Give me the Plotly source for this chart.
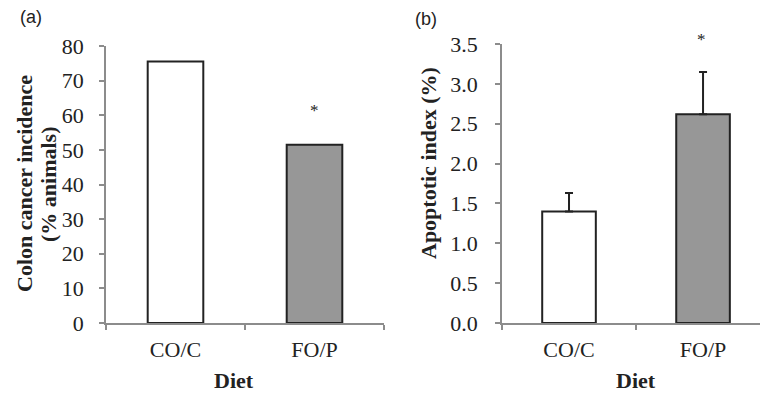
import plotly.graph_objects as go

categories = ["CO/C", "FO/P"]
incidence = [75.5, 51.5]
apoptotic = [1.40, 2.62]
apoptotic_err = [0.23, 0.53]
bar_colors = ["#ffffff", "#979797"]

SERIF = "Liberation Serif, Times New Roman, serif"
SANS = "Liberation Sans, Arial, sans-serif"
W, H = 760, 395
TXT = "#222222"
EDGE = "#222222"

fig = go.Figure()
fig.add_trace(go.Bar(x=categories, y=incidence, marker=dict(color=bar_colors, line=dict(color=EDGE, width=2)),
                     width=0.4, xaxis="x", yaxis="y", showlegend=False))
fig.add_trace(go.Bar(x=categories, y=apoptotic, marker=dict(color=bar_colors, line=dict(color=EDGE, width=2)),
                     width=0.4, xaxis="x2", yaxis="y2", showlegend=False,
                     error_y=dict(type="data", array=apoptotic_err, arrayminus=[0, 0], symmetric=False,
                                  color=EDGE, thickness=2, width=4)))

def px_x(p):
    return p / W

def px_y(p):
    return 1 - p / H

axis_common = dict(showgrid=False, zeroline=False, showline=True, linecolor="#8c8c8c", linewidth=1.5,
                   ticks="outside", tickcolor="#8c8c8c", ticklen=5, tickwidth=1.5, automargin=False,
                   tickfont=dict(family=SERIF, size=22, color=TXT))

fig.update_layout(
    width=W, height=H, autosize=False, margin=dict(l=0, r=0, t=0, b=0, pad=0, autoexpand=False),
    paper_bgcolor="white", plot_bgcolor="white",
    xaxis=dict(domain=[px_x(106), px_x(384)], anchor="y", type="category", range=[-0.5, 1.5],
               tickson="boundaries", ticklabelstandoff=6, **axis_common),
    yaxis=dict(domain=[px_y(323), px_y(46)], anchor="x", range=[0, 80], dtick=10,
               ticklabelstandoff=11, **axis_common),
    xaxis2=dict(domain=[px_x(502), 1.0], anchor="y2", type="category", range=[-0.5, 1.425],
                tickson="boundaries", ticklabelstandoff=6, **axis_common),
    yaxis2=dict(domain=[px_y(323), px_y(44)], anchor="x2", range=[0, 3.5], dtick=0.5, tickformat=".1f",
                ticklabelstandoff=13, **axis_common),
)

def note(text, x, y, size=22, family=SERIF, angle=0):
    return dict(text=text, x=px_x(x), y=px_y(y), xref="paper", yref="paper", showarrow=False,
                xanchor="center", yanchor="middle", textangle=angle,
                font=dict(family=family, size=size, color=TXT))

ann = [
    note("(a)", 31, 17, size=18, family=SANS),
    note("(b)", 426, 19, size=18, family=SANS),
    note("<b>Colon cancer incidence</b>", 24, 184, angle=-90),
    note("<b>(% animals)</b>", 48, 184, angle=-90),
    note("<b>Apoptotic index (%)</b>", 428, 163, angle=-90),
    note("<b>Diet</b>", 234, 380),
    note("<b>Diet</b>", 636, 380),
    note("*", 314, 111, size=17),
    note("*", 701, 40, size=17),
]
fig.update_layout(annotations=ann)

fig.write_html("out.html", config={"displayModeBar": False},
               post_script="document.body.style.margin='0';document.body.style.overflow='hidden';")
